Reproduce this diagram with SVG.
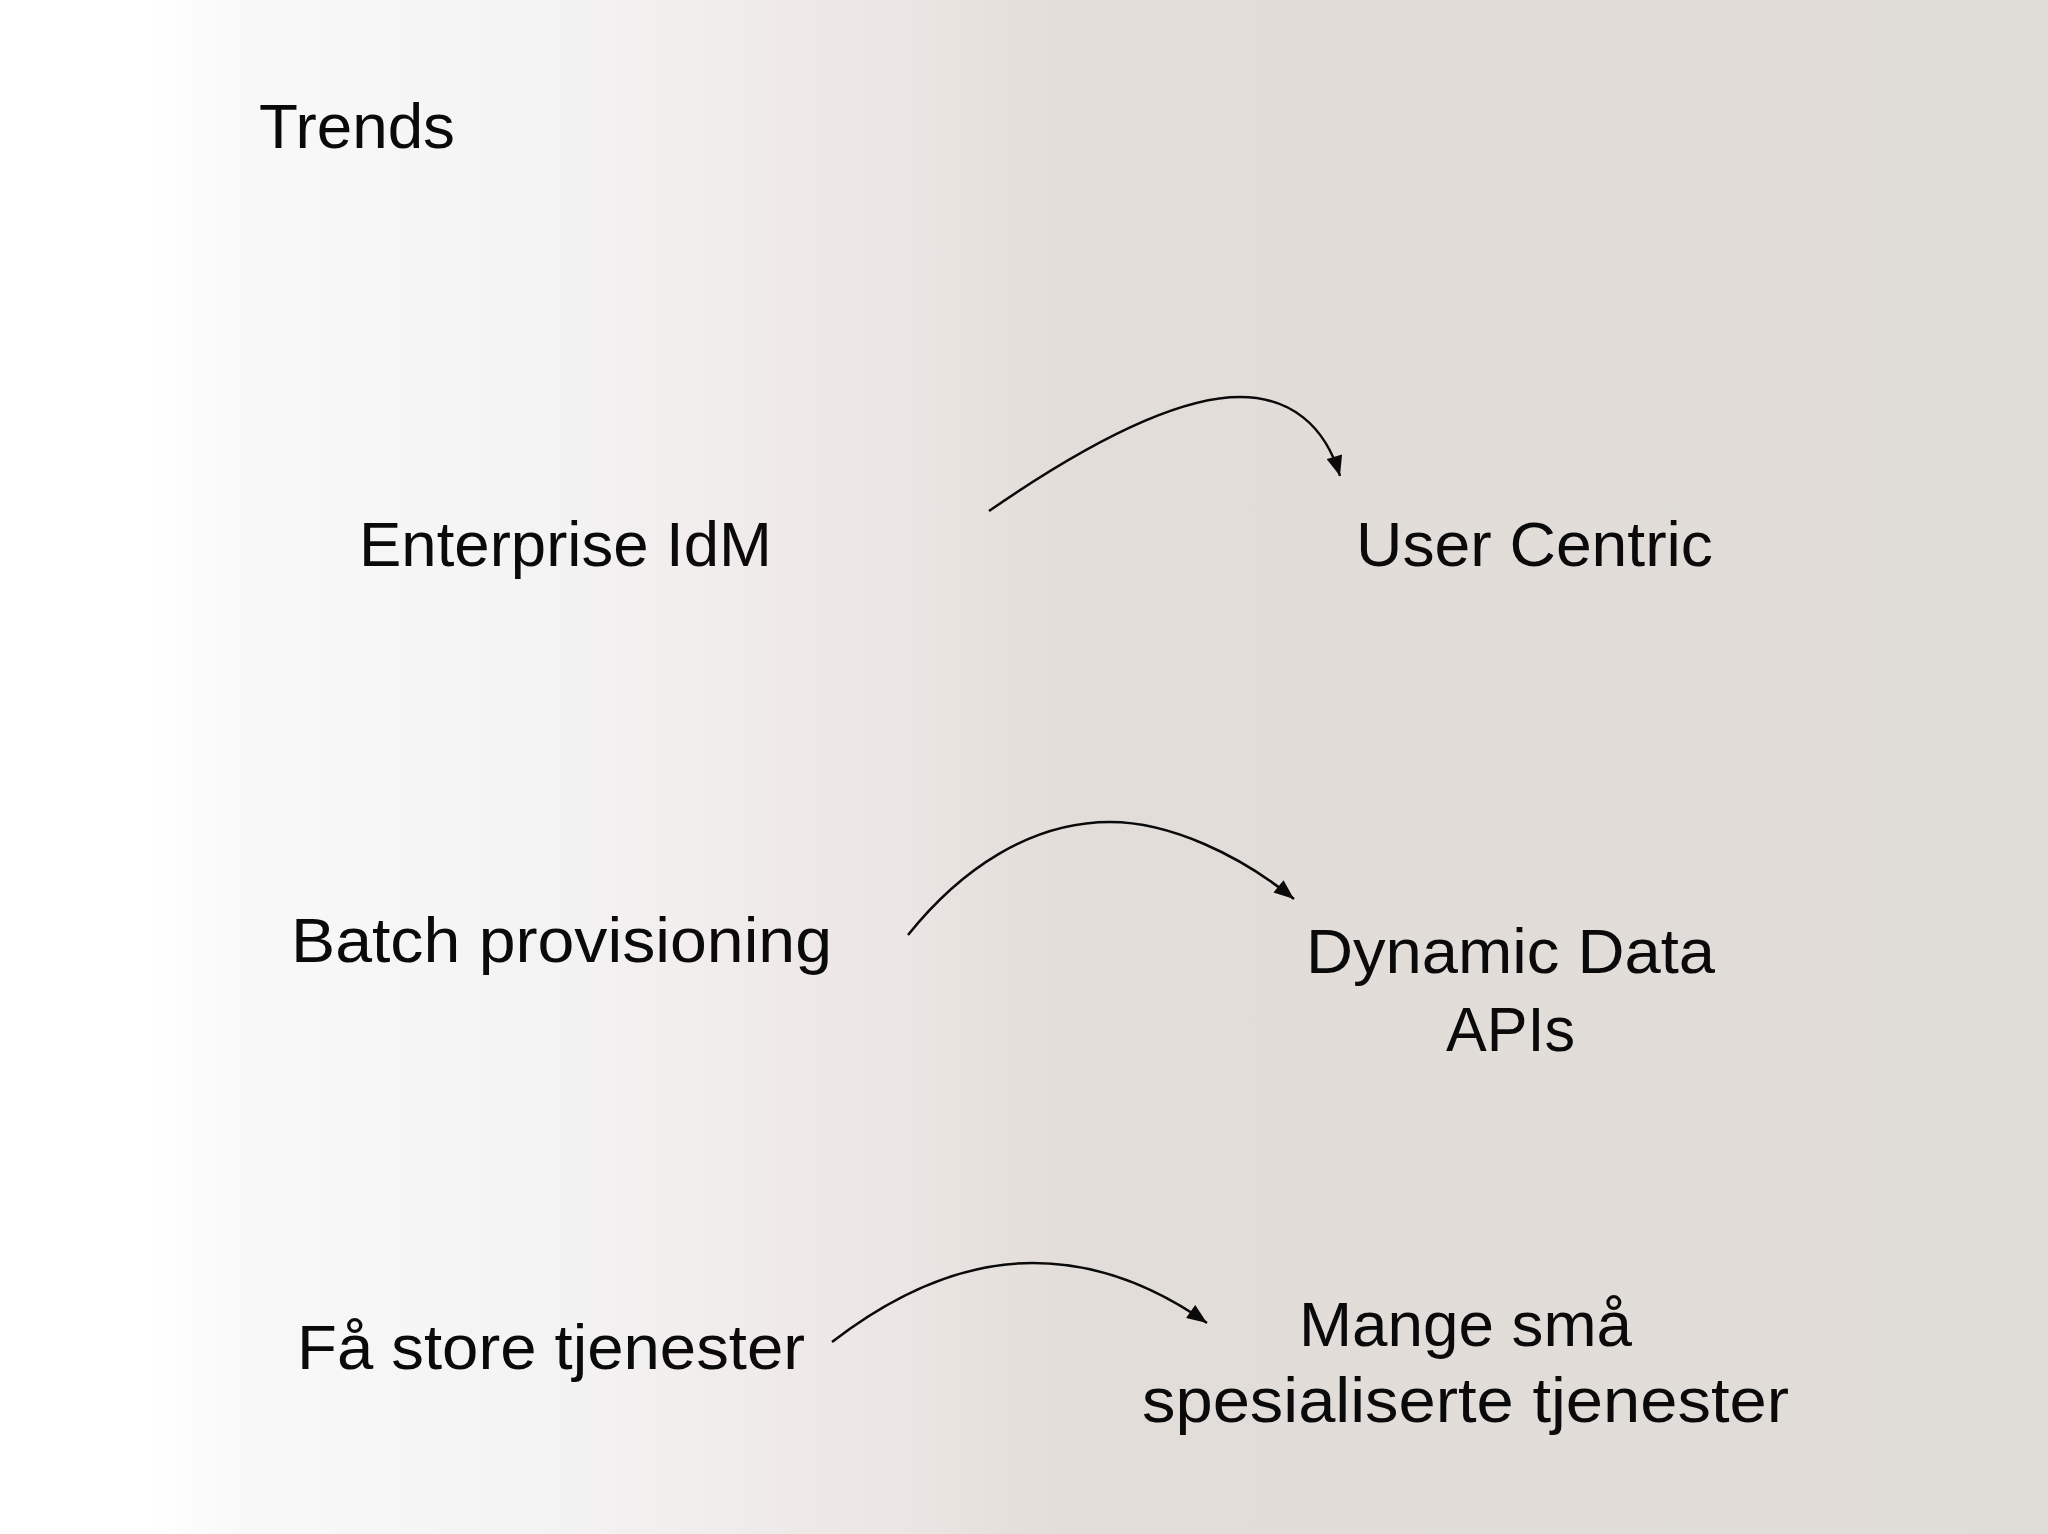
<svg xmlns="http://www.w3.org/2000/svg" width="2048" height="1534" viewBox="0 0 2048 1534">
  <style>
    .lbl { font-family: "Liberation Sans", Arial, sans-serif; font-size: 63px; fill: #0a0a0a; }
    .mid { text-anchor: middle; }
    .conn { fill: none; stroke: #0a0a0a; stroke-width: 2.5; marker-end: url(#arrow); }
  </style>
  <defs>
    <linearGradient id="bg" x1="0" y1="0" x2="2048" y2="0" gradientUnits="userSpaceOnUse">
      <stop offset="0" stop-color="#ffffff"/>
      <stop offset="0.075" stop-color="#ffffff"/>
      <stop offset="0.113" stop-color="#f9f9f9"/>
      <stop offset="0.27" stop-color="#f4f3f3"/>
      <stop offset="0.36" stop-color="#f0eceb"/>
      <stop offset="0.445" stop-color="#ebe5e3"/>
      <stop offset="0.49" stop-color="#e6e0dd"/>
      <stop offset="0.53" stop-color="#e2ddd9"/>
      <stop offset="1" stop-color="#e0dcd8"/>
    </linearGradient>
    <marker id="arrow" viewBox="0 0 20 16" refX="20" refY="8" markerWidth="21" markerHeight="16" markerUnits="userSpaceOnUse" orient="auto">
      <path d="M0,0 L20,8 L0,16 z" fill="#0a0a0a"/>
    </marker>
  </defs>

  <rect x="0" y="0" width="2048" height="1534" fill="url(#bg)"/>

  <g id="title">
    <text class="lbl" x="259" y="148" textLength="196" lengthAdjust="spacingAndGlyphs">Trends</text>
  </g>

  <g id="node-enterprise-idm">
    <text class="lbl mid" x="565.5" y="566" textLength="413" lengthAdjust="spacingAndGlyphs">Enterprise IdM</text>
  </g>
  <g id="node-user-centric">
    <text class="lbl mid" x="1534.5" y="566" textLength="357" lengthAdjust="spacingAndGlyphs">User Centric</text>
  </g>
  <g id="node-batch-provisioning">
    <text class="lbl mid" x="561.5" y="962" textLength="541" lengthAdjust="spacingAndGlyphs">Batch provisioning</text>
  </g>
  <g id="node-dynamic-data-apis">
    <text class="lbl mid" x="1510.5" y="973" textLength="409" lengthAdjust="spacingAndGlyphs">Dynamic Data</text>
    <text class="lbl mid" x="1510.5" y="1051" textLength="129" lengthAdjust="spacingAndGlyphs">APIs</text>
  </g>
  <g id="node-fa-store-tjenester">
    <text class="lbl mid" x="551" y="1369" textLength="508" lengthAdjust="spacingAndGlyphs">Få store tjenester</text>
  </g>
  <g id="node-mange-sma">
    <text class="lbl mid" x="1465.5" y="1346" textLength="333" lengthAdjust="spacingAndGlyphs">Mange små</text>
    <text class="lbl mid" x="1465.5" y="1422" textLength="647" lengthAdjust="spacingAndGlyphs">spesialiserte tjenester</text>
  </g>

  <g id="connectors">
    <path class="conn" d="M989,511 C1070,455 1170,397 1240,397 C1290,397 1325,425 1340,476"/>
    <path class="conn" d="M908,935 C960,870 1030,822 1110,822 C1170,822 1240,855 1294,899"/>
    <path class="conn" d="M832,1342 C880,1305 950,1263 1033,1263 C1100,1263 1160,1290 1207,1323"/>
  </g>
</svg>
